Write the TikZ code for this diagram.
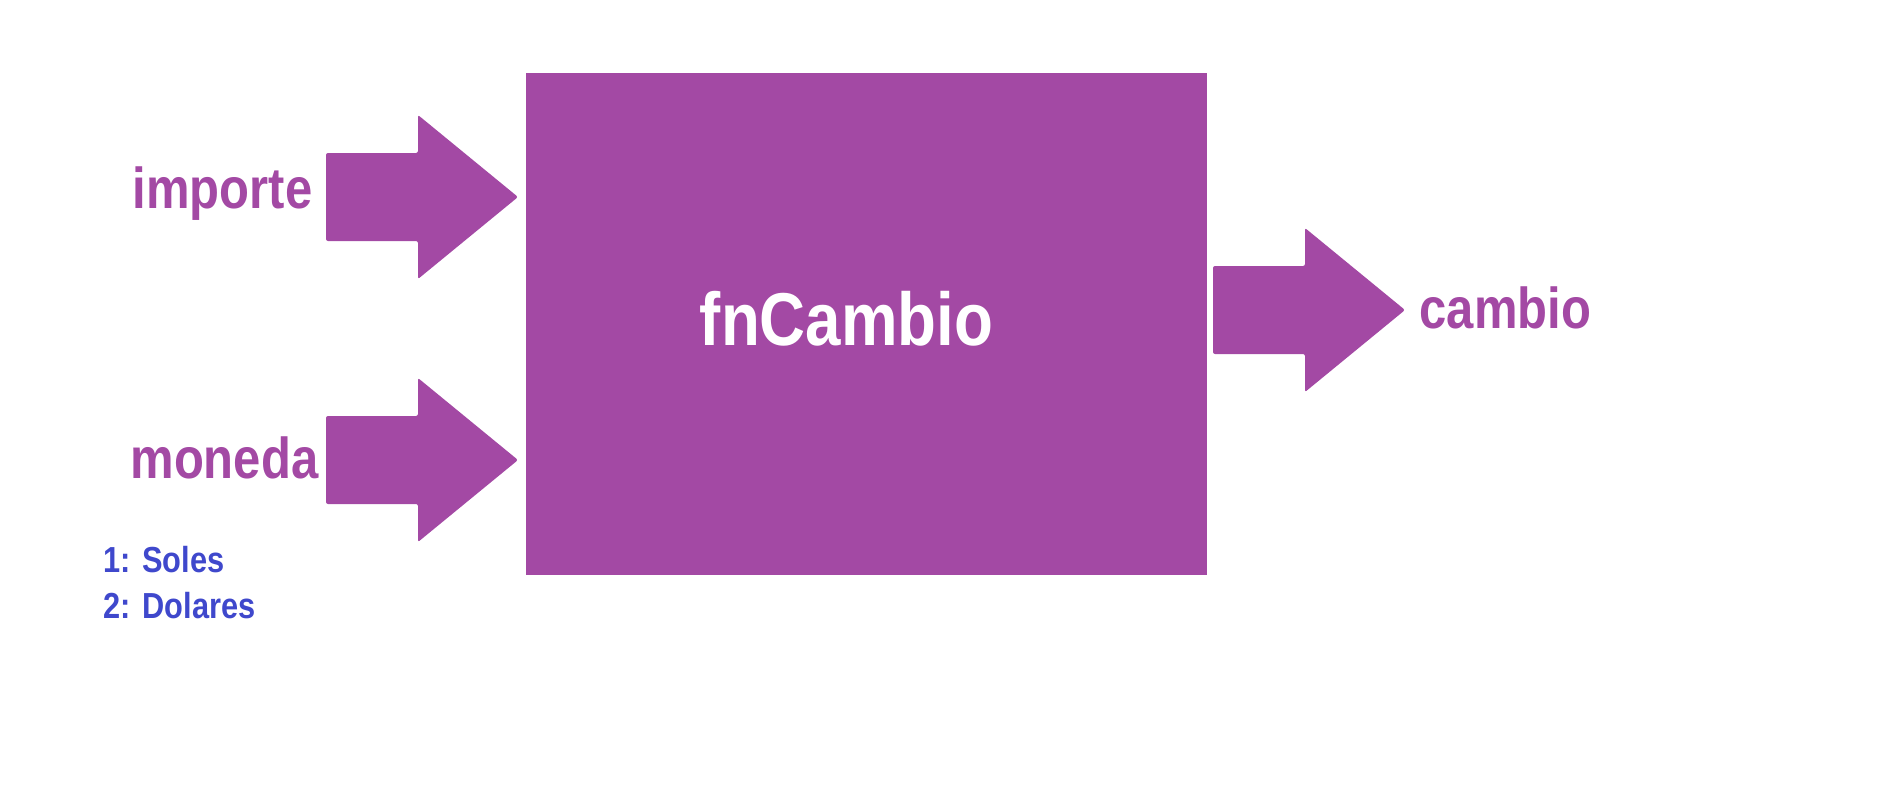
\documentclass[tikz,border=0pt]{standalone}
\usepackage{fontspec}
\setmainfont{Liberation Sans}
\newfontfamily\lblfont[FakeStretch=0.85]{Liberation Sans}
\usetikzlibrary{positioning}
\definecolor{fpurple}{HTML}{A349A4}
\definecolor{findigo}{HTML}{3F48CC}

\begin{document}
\begin{tikzpicture}[x=1cm, y=1cm,
  varlabel/.style={font=\lblfont\bfseries\fontsize{16.4}{18}\selectfont, text=fpurple, inner sep=0pt},
  optlabel/.style={font=\lblfont\bfseries\fontsize{10.3}{12}\selectfont, text=findigo, inner sep=0pt, anchor=base west},
  blockarrow/.style={fill=fpurple, rounded corners=0.02cm}]

  \useasboundingbox (0,0) rectangle (18.94,7.87);

  %% Function box
  \node[fill=fpurple, minimum width=6.81cm, minimum height=5.02cm, inner sep=0pt, anchor=north west]
    (fn) at (5.25,7.15) {};
  \node[font=\lblfont\bfseries\fontsize{21.3}{24}\selectfont, text=white, inner sep=0pt, anchor=base]
    (fnname) at (8.465,4.42) {fnCambio};

  %% Block arrows (tail x / centre y)
  \foreach \x/\y in {3.26/5.90, 3.26/3.27, 12.13/4.77} {
    \fill[blockarrow] (\x,{\y-0.44}) -- (\x,{\y+0.44}) -- ({\x+0.92},{\y+0.44})
      -- ({\x+0.92},{\y+0.82}) -- ({\x+1.92},\y) -- ({\x+0.92},{\y-0.82})
      -- ({\x+0.92},{\y-0.44}) -- cycle;
  }

  %% Inputs and output
  \node[varlabel, anchor=base east] (importe) at (3.13,5.79) {importe};
  \node[varlabel, anchor=base east] (moneda) at (3.19,3.09) {moneda};
  \node[varlabel, anchor=base west] (cambio) at (14.19,4.59) {cambio};

  %% Currency codes
  \node[optlabel] (soles) at (1.03,2.15) {1: Soles};
  \node[optlabel] (dolares) at (1.03,1.69) {2: Dolares};

\end{tikzpicture}
\end{document}
